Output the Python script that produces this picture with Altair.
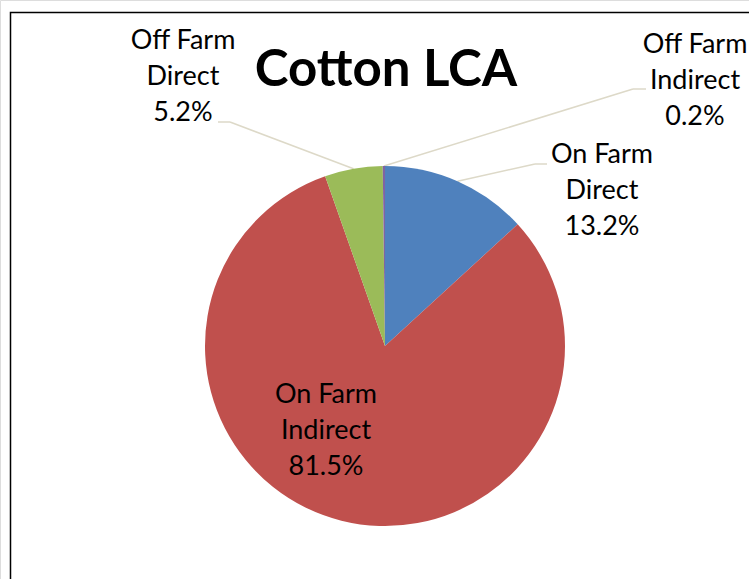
import math
import altair as alt
import pandas as pd

# ---- data ----
categories = ["On Farm Direct", "On Farm Indirect", "Off Farm Direct", "Off Farm Indirect"]
shares = [13.2, 81.5, 5.2, 0.2]
label_lines = [["On Farm", "Direct"], ["On Farm", "Indirect"], ["Off Farm", "Direct"], ["Off Farm", "Indirect"]]
colors = ["#4F81BD", "#C0504D", "#9BBB59", "#8064A2"]
title_text = "Cotton LCA"

# ---- layout (pixels) ----
W, H = 749, 579
CX, CY, R = 385, 346, 180
FONT = "Lato"
LINE_H = 36
label_centre = [(602, 191), (326, 431), (183, 77), (695, 81)]   # middle line centre
leader_elbow = [(535, 164), None, (230, 122), (633, 89)]
leader_end = [(547, 164), None, (218, 122), (646, 89)]
LEADER_COLOR = "#DDD9C8"

# ---- pie ----
pie_df = pd.DataFrame({"category": categories, "share": shares, "order": list(range(len(categories)))})
pie = alt.Chart(pie_df).mark_arc(radius=R).encode(
    theta=alt.Theta("share:Q", stack=True),
    color=alt.Color("category:N", scale=alt.Scale(domain=categories, range=colors), legend=None),
    order=alt.Order("order:Q"),
    x=alt.value(CX),
    y=alt.value(CY),
)

# ---- labels ----
total = sum(shares)
rows = []
for i, (lines, v) in enumerate(zip(label_lines, shares)):
    texts = lines + [f"{v:.1f}%"]
    cx, cy = label_centre[i]
    for k, t in enumerate(texts):
        rows.append({"text": t, "x": cx, "y": cy + (k - 1) * LINE_H})
label_df = pd.DataFrame(rows)
labels = alt.Chart(label_df).mark_text(font=FONT, fontSize=27, color="black", baseline="middle", align="center").encode(
    x=alt.X("x:Q", scale=None, axis=None),
    y=alt.Y("y:Q", scale=None, axis=None),
    text="text:N",
)

# ---- leader lines (start at each slice's mid angle on the rim) ----
segs = []
cum = 0.0
for i, v in enumerate(shares):
    mid = (cum + v / 2) / total * 2 * math.pi
    cum += v
    if leader_elbow[i] is None:
        continue
    sx, sy = CX + R * math.sin(mid), CY - R * math.cos(mid)
    ex, ey = leader_elbow[i]
    fx, fy = leader_end[i]
    segs.append({"x": sx, "y": sy, "x2": ex, "y2": ey})
    segs.append({"x": ex, "y": ey, "x2": fx, "y2": fy})
seg_df = pd.DataFrame(segs)
leaders = alt.Chart(seg_df).mark_rule(color=LEADER_COLOR, strokeWidth=1.5).encode(
    x=alt.X("x:Q", scale=None, axis=None),
    y=alt.Y("y:Q", scale=None, axis=None),
    x2="x2:Q",
    y2="y2:Q",
)

# ---- title ----
title = alt.Chart(pd.DataFrame({"t": [title_text]})).mark_text(
    font=FONT, fontSize=51, fontWeight="bold", color="black", align="center", baseline="middle"
).encode(x=alt.value(386), y=alt.value(71), text="t:N")

# ---- frame ----
frame = alt.Chart(pd.DataFrame({"a": [0]})).mark_rect(
    fillOpacity=0, stroke="black", strokeWidth=1.5
).encode(x=alt.value(10.5), y=alt.value(12.5), x2=alt.value(1000), y2=alt.value(1000))

chart = alt.layer(frame, leaders, pie, labels, title).properties(
    width=W, height=H, padding=0, autosize=alt.AutoSizeParams(type="none")
).configure_view(stroke=None).configure(background="white")

chart.save("out.html", embed_options={"renderer": "svg", "actions": False})
